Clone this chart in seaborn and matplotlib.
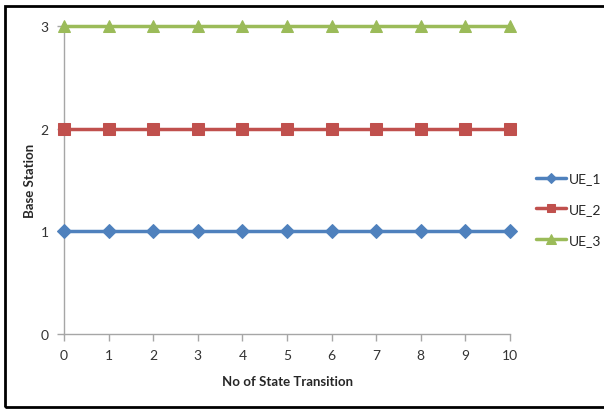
import numpy as np
import pandas as pd
import matplotlib
matplotlib.use('Agg')
import matplotlib.pyplot as plt
import seaborn as sns
from matplotlib.patches import Rectangle

# data
transitions = list(range(11))
ue_1 = [1] * 11
ue_2 = [2] * 11
ue_3 = [3] * 11
series_names = ['UE_1', 'UE_2', 'UE_3']
colors = ['#4F81BD', '#C0504D', '#9BBB59']
markers = ['D', 's', '^']
msizes = [7, 8, 9]

df = pd.DataFrame({'x': transitions * 3,
                   'y': ue_1 + ue_2 + ue_3,
                   'UE': ['UE_1'] * 11 + ['UE_2'] * 11 + ['UE_3'] * 11})

sns.set_style('white')
plt.rcParams['font.family'] = ['Lato', 'DejaVu Sans']

fig = plt.figure(figsize=(6.04, 4.10), dpi=100)
ax = fig.add_axes([64 / 604, 1 - 335 / 410, (510 - 64) / 604, (335 - 27) / 410])

for name, c, m, ms in zip(series_names, colors, markers, msizes):
    sub = df[df['UE'] == name]
    sns.lineplot(data=sub, x='x', y='y', ax=ax, color=c, marker=m, markersize=ms,
                 markeredgecolor=c, linewidth=2.5, label=name, clip_on=False, zorder=3)

ax.set_xlim(0, 10)
ax.set_ylim(0, 3)
ax.set_xticks(transitions)
ax.set_yticks([0, 1, 2, 3])
for s in ['top', 'right']:
    ax.spines[s].set_visible(False)
for s in ['left', 'bottom']:
    ax.spines[s].set_color('#A6A6A6')
    ax.spines[s].set_linewidth(1)
ax.tick_params(axis='both', direction='out', length=5, width=1, color='#A6A6A6',
               labelsize=10, labelcolor='#333333', pad=6, left=True, bottom=True)
ax.set_xlabel('No of State Transition', fontsize=9.5, fontweight='bold', labelpad=10)
ax.set_ylabel('Base Station', fontsize=9.5, fontweight='bold', labelpad=3)

leg = ax.legend(loc='center left', bbox_to_anchor=(1.03, 0.405), frameon=False,
                fontsize=10, handlelength=2.2, handletextpad=0.2, labelspacing=1.35,
                markerscale=0.75)

fig.patches.append(Rectangle((5 / 604, 2 / 410), 1.1, 401 / 410, transform=fig.transFigure,
                             fill=False, edgecolor='black', linewidth=2, figure=fig))

fig.savefig('out.png', dpi=100)
